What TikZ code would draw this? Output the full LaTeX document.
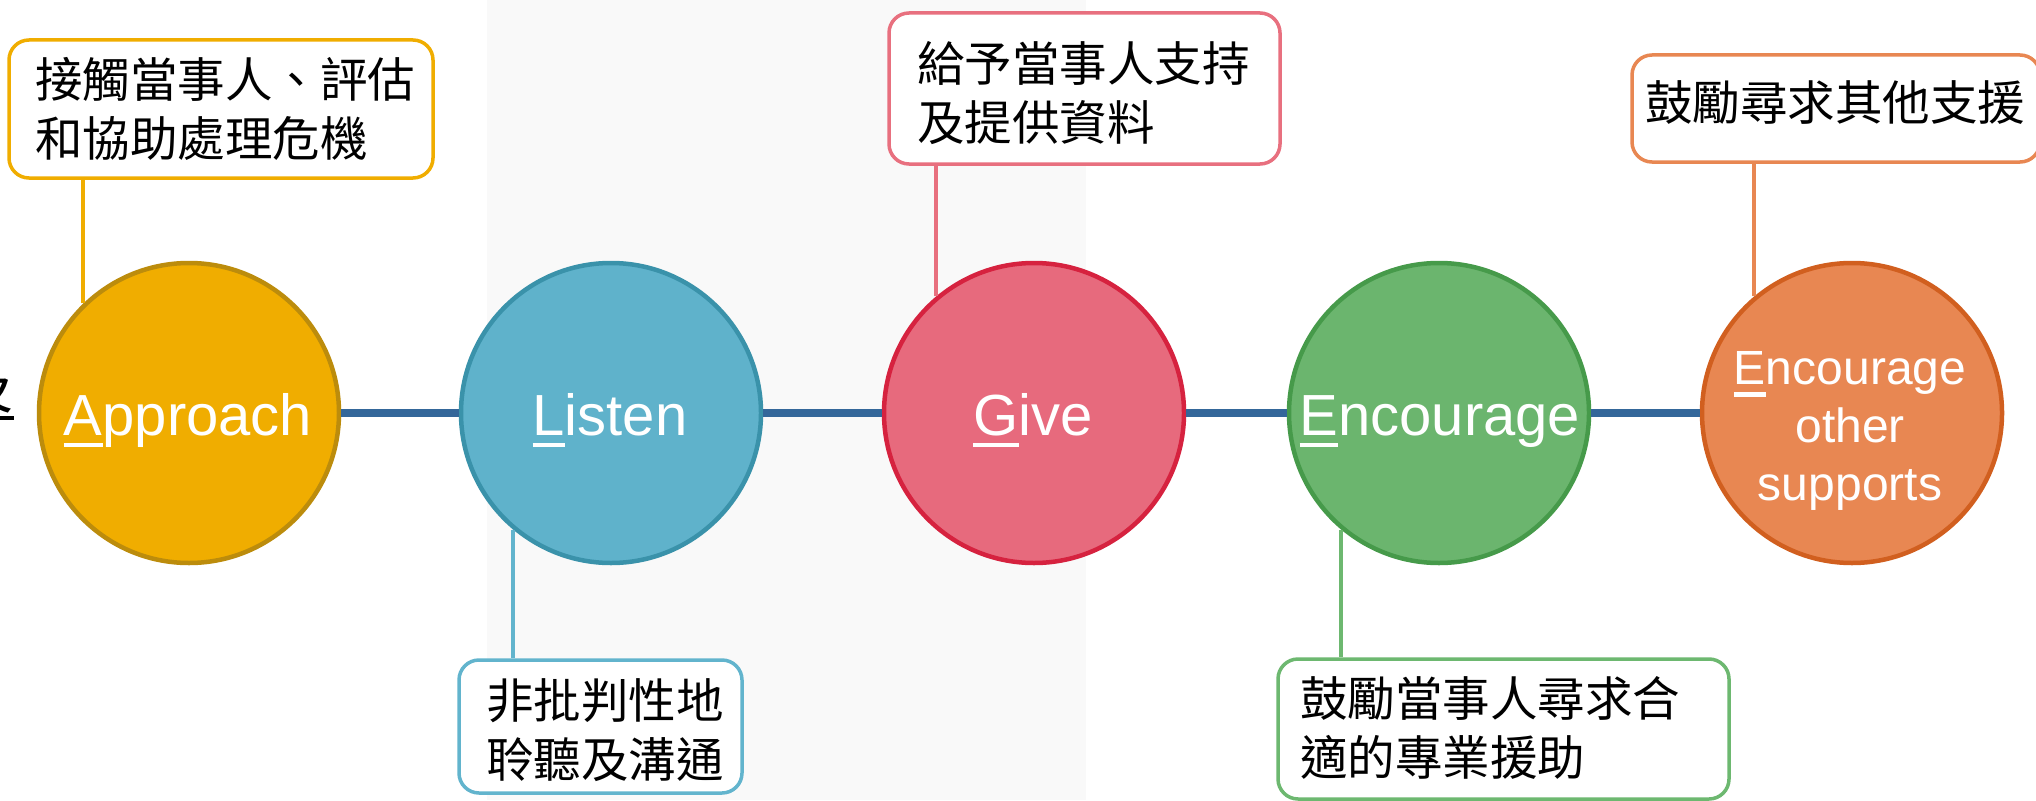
\documentclass[tikz,border=0pt]{standalone}
\usepackage{fontspec}
\setmainfont{Liberation Sans}
\newfontfamily\cjk{Noto Sans CJK TC}
\definecolor{bgband}{RGB}{249,249,249}
\definecolor{axisblue}{RGB}{52,103,154}
\definecolor{aFill}{RGB}{240,173,0}
\definecolor{aLine}{RGB}{188,140,12}
\definecolor{aBox}{RGB}{240,173,0}
\definecolor{lFill}{RGB}{95,178,203}
\definecolor{lLine}{RGB}{58,146,170}
\definecolor{lBox}{RGB}{98,180,205}
\definecolor{gFill}{RGB}{231,106,125}
\definecolor{gLine}{RGB}{214,34,63}
\definecolor{gBox}{RGB}{232,112,127}
\definecolor{eFill}{RGB}{107,181,110}
\definecolor{eLine}{RGB}{70,154,74}
\definecolor{eBox}{RGB}{109,184,112}
\definecolor{oFill}{RGB}{232,135,82}
\definecolor{oLine}{RGB}{209,95,31}
\definecolor{oBox}{RGB}{232,135,82}
\newcommand\fu[1]{\setbox0\hbox{#1}\rlap{\rule[-12pt]{\wd0}{4.5pt}}\box0}
\tikzset{
  circ/.style={circle, minimum size=300pt, inner sep=0pt, line width=4.5pt},
  note/.style={rounded corners=20pt, line width=3.5pt, fill=white, inner sep=0pt},
  lbl/.style={font=\fontsize{58pt}{58pt}\selectfont, text=white, anchor=base, inner sep=0pt},
  small/.style={font=\fontsize{48pt}{58pt}\selectfont, text=white, align=center, inner sep=0pt},
  cjktext/.style={font=\cjk\fontsize{47.5pt}{59pt}\selectfont, anchor=base west, align=left, inner sep=0pt},
  link/.style={line width=3.5pt},
  axis/.style={line width=8pt, draw=axisblue}
}
\begin{document}
\begin{tikzpicture}[x=1pt,y=-1pt]
\useasboundingbox (0,0) rectangle (2036,800);
\fill[white] (0,0) rectangle (2036,800);
\fill[bgband] (487,0) rectangle (1086,800);

% partial character at the left edge
\node[font=\cjk\fontsize{58pt}{58pt}\selectfont, anchor=base east, inner sep=0pt] (edge) at (14,408) {\fu{及}};

% circles
\node[circ, fill=aFill, draw=aLine] (cA) at (189,413) {};
\node[circ, fill=lFill, draw=lLine] (cL) at (611,413) {};
\node[circ, fill=gFill, draw=gLine] (cG) at (1034,413) {};
\node[circ, fill=eFill, draw=eLine] (cE) at (1439,413) {};
\node[circ, fill=oFill, draw=oLine] (cO) at (1852,413) {};

% axis
\draw[axis] (cA.east) -- (cL.west);
\draw[axis] (cL.east) -- (cG.west);
\draw[axis] (cG.east) -- (cE.west);
\draw[axis] (cE.east) -- (cO.west);

% labels
\node[lbl] (tA) at (188,435) {\fu{A}pproach};
\node[lbl] (tL) at (610,435) {\fu{L}isten};
\node[lbl] (tG) at (1033,435) {\fu{G}ive};
\node[lbl] (tE) at (1440,435) {\fu{E}ncourage};
\node[small] (tO) at (1850,431) {\fu{E}ncourage\\other\\supports};

% note boxes
\node[note, draw=aBox, minimum width=424pt, minimum height=138pt] (bA) at (221,109) {};
\node[note, draw=gBox, minimum width=391pt, minimum height=151pt] (bG) at (1084.5,88.5) {};
\node[note, draw=lBox, minimum width=283pt, minimum height=133pt] (bL) at (600.5,726.5) {};
\node[note, draw=eBox, minimum width=451pt, minimum height=140pt] (bE) at (1503.5,729) {};
\node[note, draw=oBox, minimum width=408pt, minimum height=107pt] (bO) at (1836,108.5) {};

\node[cjktext] (nA) at (35,156) {接觸當事人、評估\\和協助處理危機};
\node[cjktext] (nG) at (917,140) {給予當事人支持\\及提供資料};
\node[cjktext] (nL) at (486,777) {非批判性地\\聆聽及溝通};
\node[cjktext] (nE) at (1300,775) {鼓勵當事人尋求合\\適的專業援助};
\node[cjktext] (nO) at (1645,120) {鼓勵尋求其他支援};

% connectors
\draw[link, draw=aBox] (cA.134.4) -- (cA.134.4 |- bA.south);
\draw[link, draw=gBox] (cG.130.8) -- (cG.130.8 |- bG.south);
\draw[link, draw=lBox] (cL.230.2) -- (cL.230.2 |- bL.north);
\draw[link, draw=eBox] (cE.230.3) -- (cE.230.3 |- bE.north);
\draw[link, draw=oBox] (cO.130.3) -- (cO.130.3 |- bO.south);
\end{tikzpicture}
\end{document}
